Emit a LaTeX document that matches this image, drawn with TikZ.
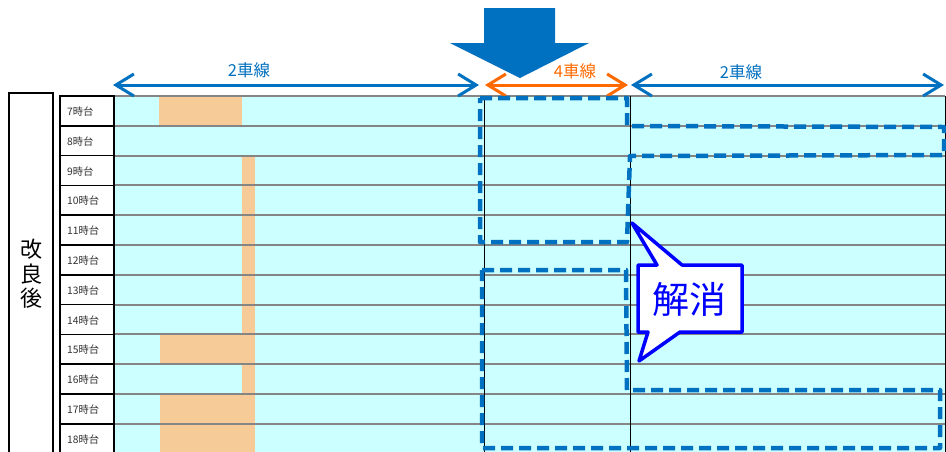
\documentclass[tikz,border=0pt]{standalone}
\usepackage{fontspec}
\setmainfont{Noto Sans CJK JP}
\usetikzlibrary{arrows.meta}
\definecolor{cyanbg}{HTML}{CCFFFF}
\definecolor{orangeblk}{HTML}{F7CB98}
\definecolor{mblue}{HTML}{0070C0}
\definecolor{morange}{HTML}{FF6A00}
\definecolor{pblue}{HTML}{0000FF}
\definecolor{rowline}{HTML}{858585}
\tikzset{
  rowlab/.style={anchor=west,font=\fontsize{10.3}{11}\selectfont,text=black!80,inner sep=0pt},
  cellbox/.style={draw=black,line width=1.6pt},
  blk/.style={fill=orangeblk,draw=none},
  gridline/.style={draw=rowline,line width=2pt},
  sepline/.style={draw=black,line width=1pt},
  dashbox/.style={draw=mblue,line width=4.5pt,dash pattern=on 12pt off 6pt,line join=round},
  dimarrow/.style={line width=3pt,{Straight Barb[length=18pt,width=22pt]}-{Straight Barb[length=18pt,width=22pt]}},
  dimlab/.style={font=\fontsize{16.5}{17}\selectfont,inner sep=0pt},
  callout/.style={draw=pblue,fill=white,line width=3.5pt,line join=round},
}
\begin{document}
\begin{tikzpicture}[x=1pt,y=-1pt]
\clip (0,0) rectangle (946,451);
\useasboundingbox (0,0) rectangle (946,451);
\fill[white] (0,0) rectangle (946,451);
% background
\fill[cyanbg] (114,96) rectangle (945,456);
% orange blocks
\def\rt#1{96+29.8*#1}
\fill[blk] (159,{\rt{0}}) rectangle (242,{\rt{1}});
\fill[blk] (242,{\rt{2}}) rectangle (255,{\rt{8}});
\fill[blk] (160,{\rt{8}}) rectangle (255,{\rt{9}});
\fill[blk] (242,{\rt{9}}) rectangle (255,{\rt{10}});
\fill[blk] (160,{\rt{10}}) rectangle (255,{\rt{13}});
% grid lines
\foreach \i in {0,...,12}{
  \draw[gridline] (114,{\rt{\i}}) -- (945,{\rt{\i}});
}
% vertical separators
\coordinate (v1t) at (484,96); \coordinate (v1b) at (484,456);
\coordinate (v2t) at (630,96); \coordinate (v2b) at (630,456);
\draw[sepline] (v1t) -- (v1b);
\draw[sepline] (v2t) -- (v2b);
\draw[black,line width=0.8pt] (945,96) -- (945,456);
% row labels
\foreach \i [count=\k from 0] in {7,...,18}{
  \draw[cellbox] (60,{\rt{\k}}) rectangle (114,{\rt{\k}+29.8});
  \node[rowlab] (lab\i) at (67,{\rt{\k}+15.5}) {\i 時台};
}
% left box
\draw[line width=1.3pt] (9,93) rectangle (53,460);
\node[font=\fontsize{22}{24.5}\selectfont,align=center,inner sep=0pt] (kai) at (31,274) {改\\良\\後};
% big down arrow
\fill[mblue] (484,8) -- (555,8) -- (555,43) -- (589,43) -- (520,78) -- (450,43) -- (484,43) -- cycle;
% dimension arrows
\coordinate (a1) at (113,85); \coordinate (a2) at (479,85);
\coordinate (b1) at (485,85); \coordinate (b2) at (628,85);
\coordinate (c1) at (631,85); \coordinate (c2) at (944,85);
\draw[dimarrow,mblue] (a1) -- (a2);
\draw[dimarrow,morange] (b1) -- (b2);
\draw[dimarrow,mblue] (c1) -- (c2);
\node[dimlab,text=mblue] (t1) at (249,70) {2車線};
\node[dimlab,text=morange] (t2) at (575,71) {4車線};
\node[dimlab,text=mblue] (t3) at (741,72) {2車線};
% dashed regions
\draw[dashbox] (480,98) -- (627,98) -- (627,126) -- (944,127) -- (944,155) -- (630,156) -- (627,242) -- (480,242) -- cycle;
\draw[dashbox] (482,270) -- (626,270) -- (627,390) -- (940,390) -- (940,448) -- (482,448) -- cycle;
% callout
\draw[callout] (638,265) -- (657,265) -- (632,223) -- (682,265) -- (742,265) -- (742,332) -- (680,332) -- (639,361) -- (648,332) -- (638,332) -- cycle;
\node[text=pblue,font=\fontsize{37}{38}\selectfont,inner sep=0pt] (kaisho) at (689,299) {解消};
\end{tikzpicture}
\end{document}
